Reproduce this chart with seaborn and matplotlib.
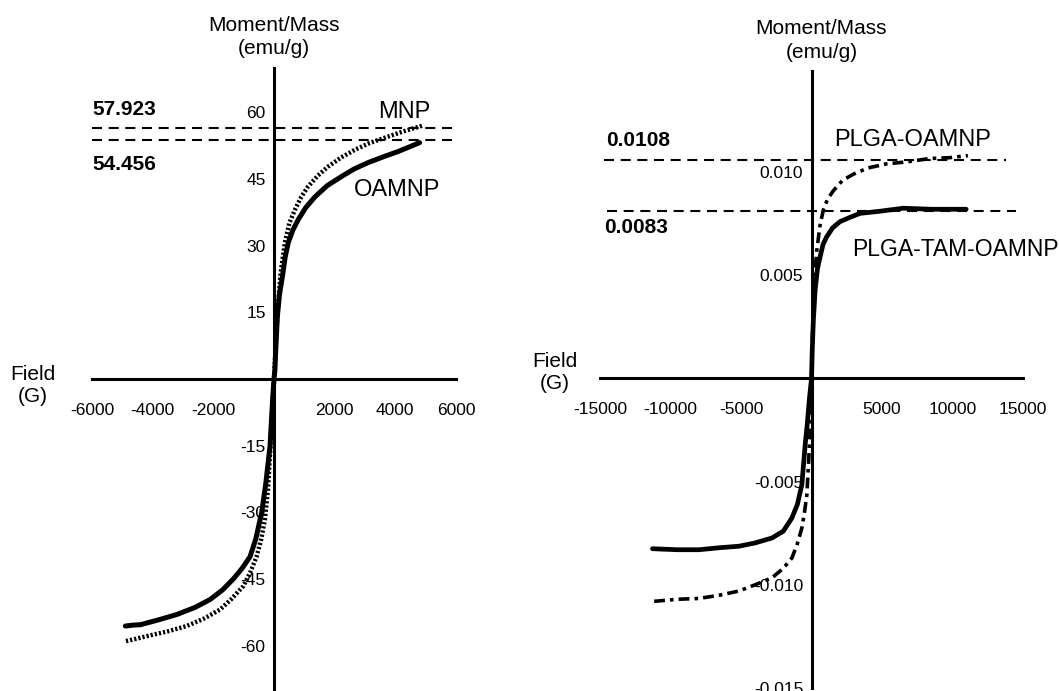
import numpy as np
import seaborn as sns
import matplotlib.pyplot as plt
from matplotlib.ticker import FixedLocator

# --- data ---
# left panel: MNP / OAMNP (field in G, moment in emu/g)
oamnp_field = [-4900, -4650, -4400, -3800, -3200, -2600, -2100, -1700, -1340, -1050,
               -790, -600, -405, -270, -130, -40, 0,
               30, 60, 110, 180, 275, 370, 470, 620, 800, 1050, 1350, 1750, 2230,
               2650, 3100, 3600, 4090, 4450, 4800]
oamnp_moment = [-55.6, -55.4, -55.3, -54.2, -53.0, -51.4, -49.6, -47.5, -45.0, -42.6,
                -40.0, -36.0, -30.0, -23.5, -15.0, -4.0, 0,
                2.0, 7.0, 14.0, 19.0, 23.0, 27.5, 30.7, 33.5, 35.9, 38.6, 41.0, 43.5, 45.6,
                47.3, 48.7, 50.0, 51.2, 52.2, 53.2]

mnp_field = [-4880, -4500, -4080, -3500, -2880, -2300, -1780, -1400, -1010, -780,
             -570, -420, -300, -200, -120, -50, 0,
             50, 120, 220, 360, 500, 690, 900, 1120, 1450, 1780, 2200, 2670, 3150,
             3650, 4250, 4880]
mnp_moment = [-59.0, -58.4, -57.7, -56.8, -55.6, -53.9, -51.9, -49.5, -46.6, -43.5,
              -39.9, -36.0, -31.6, -25.0, -15.5, -6.0, 0,
              7.0, 15.5, 24.0, 30.7, 35.0, 38.1, 41.0, 43.3, 45.8, 47.8, 49.8, 51.6, 53.1,
              54.3, 55.7, 57.0]

left_refs = [56.4, 53.7]
left_ref_labels = ["57.923", "54.456"]

# right panel: PLGA-OAMNP / PLGA-TAM-OAMNP
tam_field = [-11280, -9500, -7980, -6500, -5150, -4000, -2800, -2000, -1390, -1000,
             -685, -447, -300, -150, 0,
             47, 130, 260, 420, 610, 820, 1080, 1500, 2020, 2700, 3440, 4800, 6500,
             8500, 10970]
tam_moment = [-0.00825, -0.0083, -0.0083, -0.0082, -0.00813, -0.00797, -0.00773, -0.0074,
              -0.00676, -0.0061, -0.00515, -0.0032, -0.0022, -0.0010, 0,
              0.00126, 0.0028, 0.0043, 0.0053, 0.0059, 0.0065, 0.00687, 0.0073, 0.0076,
              0.0078, 0.0080, 0.0081, 0.00825, 0.0082, 0.0082]

plga_field = [-11160, -9500, -7980, -6500, -5150, -4000, -2800, -2000, -1390, -1000,
              -685, -500, -330, -200, -100, 0,
              60, 140, 250, 375, 600, 850, 1150, 1550, 2200, 2970, 4000, 5320, 6800,
              8380, 9800, 11090]
plga_moment = [-0.0108, -0.0107, -0.01066, -0.0105, -0.0103, -0.0100, -0.00966, -0.0092,
               -0.0087, -0.0080, -0.00725, -0.0065, -0.00564, -0.0040, -0.0025, 0,
               0.0017, 0.0038, 0.0052, 0.0062, 0.0074, 0.0082, 0.0087, 0.0091, 0.0096,
               0.0099, 0.0102, 0.0104, 0.0105, 0.01066, 0.0107, 0.0108]

right_refs = [0.01061, 0.00813]
right_ref_labels = ["0.0108", "0.0083"]

left_xticks = [-6000, -4000, -2000, 2000, 4000, 6000]
left_yticks = [-60, -45, -30, -15, 15, 30, 45, 60]
right_xticks = [-15000, -10000, -5000, 5000, 10000, 15000]
right_xminor = [-12500, -7500, -2500, 2500, 7500, 12500]
right_yticks = [-0.015, -0.010, -0.005, 0.005, 0.010]
right_ytick_labels = ["-0.015", "-0.010", "-0.005", "0.005", "0.010"]
right_yminor = [-0.0125, -0.0075, -0.0025, 0.0025, 0.0075, 0.0125]

sns.set_style("white")
plt.rcParams['font.family'] = ['Liberation Sans', 'DejaVu Sans']
plt.rcParams['text.color'] = 'black'

W, H = 1059, 691
fig = plt.figure(figsize=(W / 100, H / 100), dpi=100)
ax1 = fig.add_axes([92 / W, 1 / H, 364 / W, 622 / H])
ax2 = fig.add_axes([600 / W, 3 / H, 423 / W, 617 / H])


def style_axes(ax):
    for s in ['top', 'right']:
        ax.spines[s].set_visible(False)
    for s in ['left', 'bottom']:
        ax.spines[s].set_position(('data', 0))
        ax.spines[s].set_linewidth(2.2)
        ax.spines[s].set_color('black')
    ax.patch.set_alpha(0)
    ax.set_xlabel('')
    ax.set_ylabel('')
    ax.tick_params(axis='x', which='major', direction='out', length=8, width=2,
                   pad=9, labelsize=12.5, colors='black')
    ax.tick_params(axis='x', which='minor', direction='out', length=5, width=2)
    ax.tick_params(axis='y', which='major', direction='out', length=5, width=2,
                   pad=1, labelsize=12.5, colors='black')
    ax.tick_params(axis='y', which='minor', direction='out', length=3.5, width=2)


# ---- left panel ----
sns.lineplot(x=mnp_field, y=mnp_moment, ax=ax1, color='black', lw=3.2,
             linestyle=(0, (0.5, 0.45)), sort=False, estimator=None)
sns.lineplot(x=oamnp_field, y=oamnp_moment, ax=ax1, color='black', lw=3.6,
             sort=False, estimator=None)
for r in left_refs:
    ax1.plot([-6000, 6000], [r, r], color='black', lw=1.5, linestyle=(0, (4.8, 3.2)))
ax1.set_xlim(-6000, 6000)
ax1.set_ylim(-70, 70)
ax1.set_xticks(left_xticks)
ax1.set_xticklabels([str(v) for v in left_xticks])
ax1.set_yticks(left_yticks)
ax1.set_yticklabels([str(v) for v in left_yticks])
style_axes(ax1)

ax1.text(0, 77, "Moment/Mass\n(emu/g)", ha='center', va='center', fontsize=15,
         linespacing=1.3, clip_on=False)
ax1.text(-7940, -1.4, "Field\n(G)", ha='center', va='center', fontsize=15,
         linespacing=1.2, clip_on=False)
ax1.text(-6000, 60.7, left_ref_labels[0], ha='left', va='center', fontsize=15,
         fontweight='bold', clip_on=False)
ax1.text(-6000, 48.3, left_ref_labels[1], ha='left', va='center', fontsize=15,
         fontweight='bold', clip_on=False)
ax1.text(4283, 60.0, "MNP", ha='center', va='center', fontsize=17, clip_on=False)
ax1.text(4053, 42.6, "OAMNP", ha='center', va='center', fontsize=17, clip_on=False)

# ---- right panel ----
sns.lineplot(x=plga_field, y=plga_moment, ax=ax2, color='black', lw=2.6,
             linestyle=(0, (3, 1.4, 1, 1.4)), sort=False, estimator=None)
sns.lineplot(x=tam_field, y=tam_moment, ax=ax2, color='black', lw=3.4,
             sort=False, estimator=None)
ax2.plot([-14700, 13800], [right_refs[0]] * 2, color='black', lw=1.5,
         linestyle=(0, (4.8, 3.2)))
ax2.plot([-14500, 14500], [right_refs[1]] * 2, color='black', lw=1.5,
         linestyle=(0, (4.8, 3.2)))
ax2.set_xlim(-15000, 15000)
ax2.set_ylim(-0.015, 0.0149)
ax2.set_xticks(right_xticks)
ax2.set_xticklabels([str(v) for v in right_xticks])
ax2.xaxis.set_minor_locator(FixedLocator(right_xminor))
ax2.set_yticks(right_yticks)
ax2.set_yticklabels(right_ytick_labels)
ax2.yaxis.set_minor_locator(FixedLocator(right_yminor))
style_axes(ax2)

ax2.text(706, 0.01638, "Moment/Mass\n(emu/g)", ha='center', va='center', fontsize=15,
         linespacing=1.3, clip_on=False)
ax2.text(-18220, 0.0003, "Field\n(G)", ha='center', va='center', fontsize=15,
         linespacing=1.2, clip_on=False)
ax2.text(-14550, 0.01155, right_ref_labels[0], ha='left', va='center', fontsize=15,
         fontweight='bold', clip_on=False)
ax2.text(-14690, 0.0073, right_ref_labels[1], ha='left', va='center', fontsize=15,
         fontweight='bold', clip_on=False)
ax2.text(7200, 0.01155, "PLGA-OAMNP", ha='center', va='center', fontsize=17, clip_on=False)
ax2.text(2900, 0.00623, "PLGA-TAM-OAMNP", ha='left', va='center', fontsize=16.5,
         clip_on=False)

fig.savefig("out.png", dpi=100)
